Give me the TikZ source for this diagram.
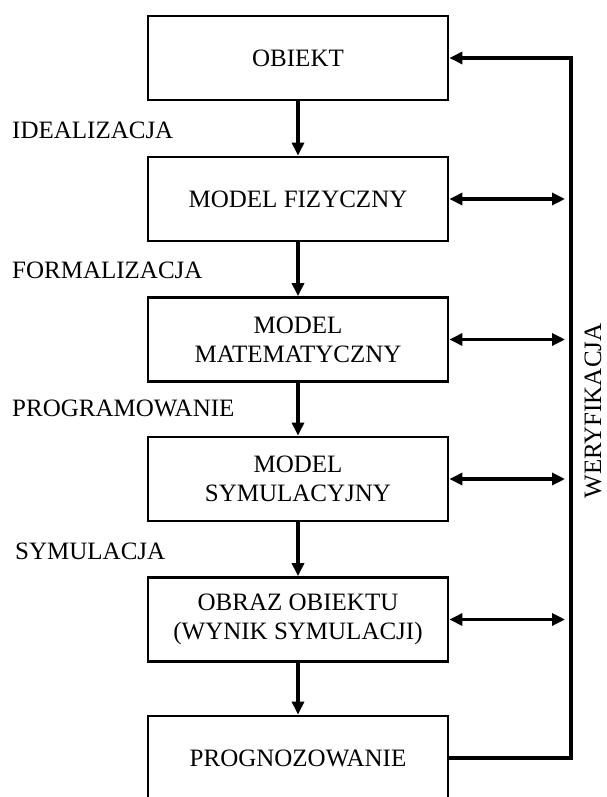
\documentclass[tikz,border=0pt]{standalone}
\usepackage{fontspec}
\setmainfont{Liberation Serif}
\usetikzlibrary{arrows.meta}
\begin{document}
\begin{tikzpicture}[x=1pt,y=1pt,
  box/.style={draw, line width=2.8pt, minimum width=300pt, minimum height=84pt, align=center, inner sep=0pt, font=\fontsize{25}{29}\selectfont},
  lbl/.style={anchor=west, inner sep=0pt, font=\fontsize{25}{29}\selectfont},
  tip/.tip={Triangle[length=13pt,width=12pt]},
  conn/.style={line width=3.2pt, -tip},
  bconn/.style={line width=3.2pt, tip-tip},
  fb/.style={line width=3.2pt, -tip}
]
\useasboundingbox (0,0) rectangle (606,-797);
\node[box] (b1) at (298,-58) {OBIEKT};
\node[box] (b2) at (298,-199) {MODEL FIZYCZNY};
\node[box] (b3) at (298,-339.5) {MODEL\\MATEMATYCZNY};
\node[box] (b4) at (298,-479) {MODEL\\SYMULACYJNY};
\node[box] (b5) at (298,-619.5) {OBRAZ OBIEKTU\\(WYNIK SYMULACJI)};
\node[box] (b6) at (298,-758) {PROGNOZOWANIE};

\node[lbl] (l1) at (12,-130) {IDEALIZACJA};
\node[lbl] (l2) at (12,-270) {FORMALIZACJA};
\node[lbl] (l3) at (12,-408) {PROGRAMOWANIE};
\node[lbl] (l4) at (15,-551) {SYMULACJA};

\draw[conn] (b1) -- (b2);
\draw[conn] (b2) -- (b3);
\draw[conn] (b3) -- (b4);
\draw[conn] (b4) -- (b5);
\draw[conn] (b5) -- (b6);

\coordinate (vb) at (571,-758);
\coordinate (vt) at (571,-58);
\draw[fb] (b6.east) -- (vb) -- (vt) -- (b1.east);

\coordinate (r2) at (565,-199);
\coordinate (r3) at (565,-339.5);
\coordinate (r4) at (565,-479);
\coordinate (r5) at (565,-619.5);
\draw[bconn] (b2.east) -- (r2);
\draw[bconn] (b3.east) -- (r3);
\draw[bconn] (b4.east) -- (r4);
\draw[bconn] (b5.east) -- (r5);

\node[rotate=90, anchor=base, inner sep=0pt, font=\fontsize{25}{29}\selectfont] (wer) at (601,-411) {WERYFIKACJA};
\end{tikzpicture}
\end{document}
